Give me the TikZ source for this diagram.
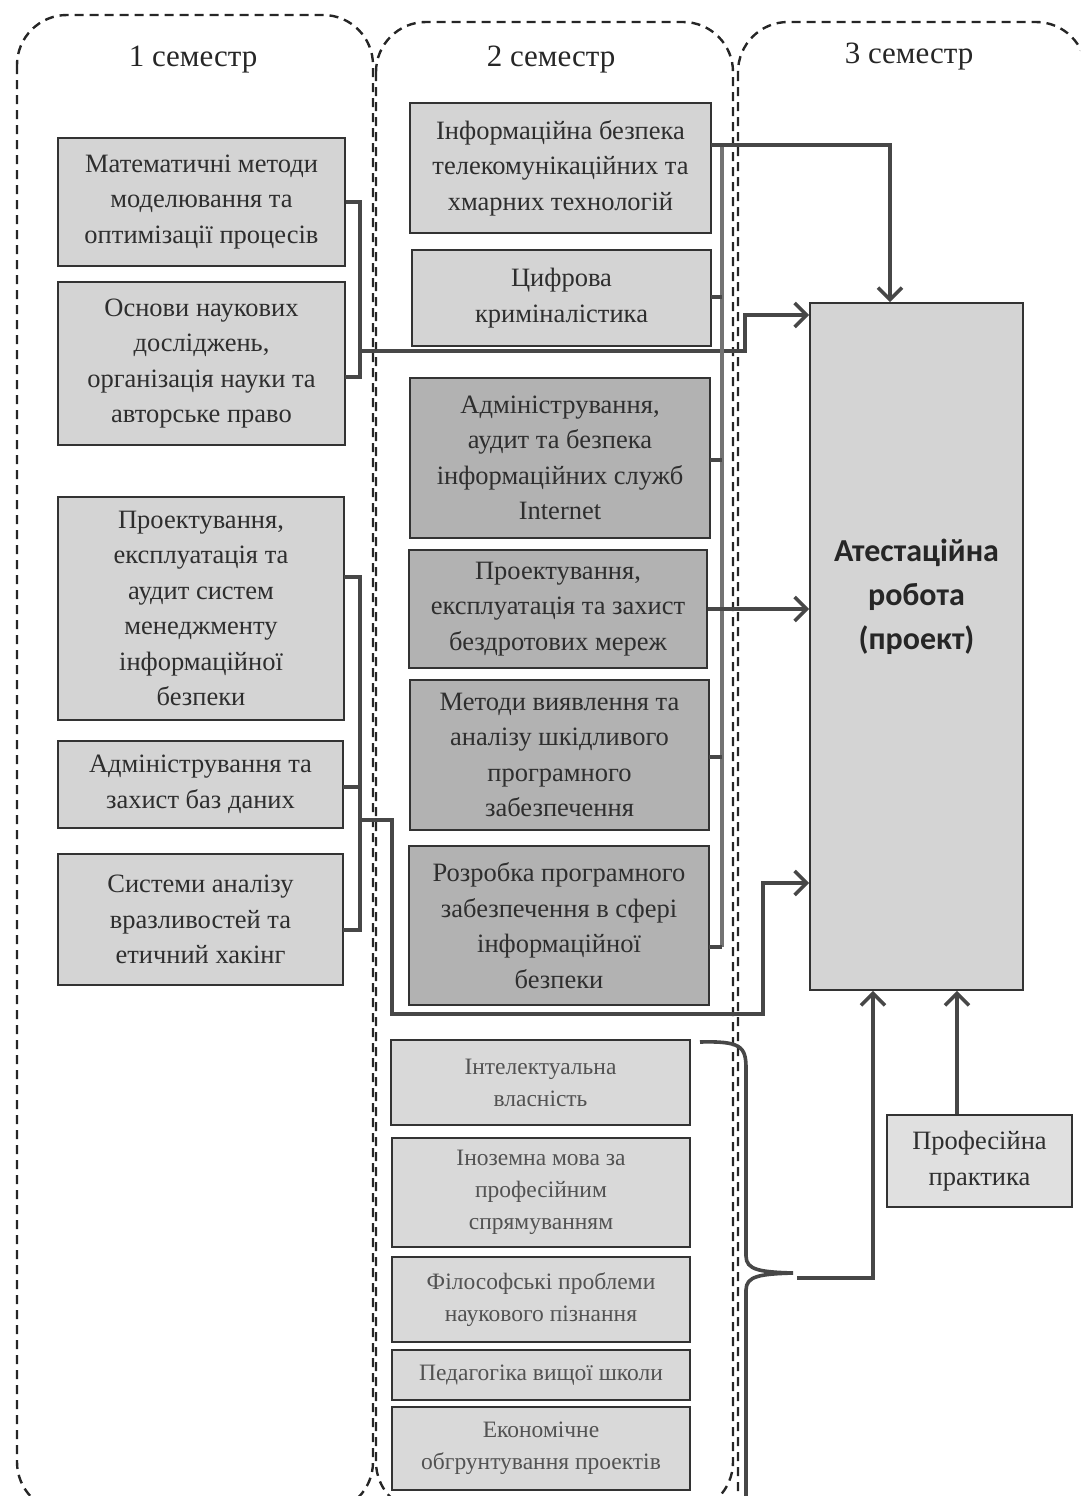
\documentclass[tikz,border=0pt]{standalone}
\usepackage{fontspec}
\setmainfont{Liberation Serif}
\newfontfamily\calib{Carlito}
\usetikzlibrary{arrows.meta}
\begin{document}
\begin{tikzpicture}[x=1pt,y=-1pt,
  coldash/.style={draw=black!85,line width=2.4pt,dash pattern=on 9pt off 6pt,rounded corners=50pt},
  bx/.style={rectangle,draw=black!80,line width=1.6pt,inner sep=0pt,align=center,text=black!82,
    font=\fontsize{26.5}{35.5}\selectfont},
  lightbx/.style={bx,fill=black!17},
  darkbx/.style={bx,fill=black!30},
  smallbx/.style={bx,fill=black!15,text=black!68,font=\fontsize{23.5}{32}\selectfont},
  conn/.style={draw=black!72,line width=4pt,line join=miter},
  bus/.style={draw=black!55,line width=3.6pt},
  arr/.style={conn,-{Straight Barb[length=12pt,width=24pt,line width=3.6pt]}},
  sem/.style={text=black!85,font=\fontsize{31}{36}\selectfont}]
\useasboundingbox (0,0) rectangle (1080,1496);
\clip (0,0) rectangle (1080,1496);
% column frames
\draw[coldash] (17,15) rectangle (373,1512);
\draw[coldash] (376,22) rectangle (733,1512);
\draw[coldash] (738,22) rectangle (1086,1600);
% semester labels
\node[sem] (t1) at (193,60) {1 семестр};
\node[sem] (t2) at (551,60) {2 семестр};
\node[sem] (t3) at (909,57) {3 семестр};
% column 1
\node[lightbx,minimum width=287pt,minimum height=128pt] (m1) at (201.5,202) {Математичні методи\\моделювання та\\оптимізації процесів};
\node[lightbx,minimum width=287pt,minimum height=163pt] (m2) at (201.5,363.5) {Основи наукових\\досліджень,\\організація науки та\\авторське право};
\node[lightbx,minimum width=286pt,minimum height=223pt] (m3) at (201,608.5) {Проектування,\\експлуатація та\\аудит систем\\менеджменту\\інформаційної\\безпеки};
\node[lightbx,minimum width=285pt,minimum height=87pt] (m4) at (200.5,784.5) {Адміністрування та\\захист баз даних};
\node[lightbx,minimum width=285pt,minimum height=131pt] (m5) at (200.5,919.5) {Системи аналізу\\вразливостей та\\етичний хакінг};
% column 2
\node[lightbx,minimum width=301pt,minimum height=130pt] (s1) at (560.5,168) {Інформаційна безпека\\телекомунікаційних та\\хмарних технологій};
\node[lightbx,minimum width=299pt,minimum height=96pt] (s2) at (561.5,298) {Цифрова\\криміналістика};
\node[darkbx,minimum width=300pt,minimum height=160pt] (s3) at (560,458) {Адміністрування,\\аудит та безпека\\інформаційних служб\\Internet};
\node[darkbx,minimum width=298pt,minimum height=118pt] (s4) at (558,609) {Проектування,\\експлуатація та захист\\бездротових мереж};
\node[darkbx,minimum width=299pt,minimum height=150pt] (s5) at (559.5,755) {Методи виявлення та\\аналізу шкідливого\\програмного\\забезпечення};
\node[darkbx,minimum width=300pt,minimum height=159pt] (s6) at (559,925.5) {Розробка програмного\\забезпечення в сфері\\інформаційної\\безпеки};
\node[smallbx,minimum width=299pt,minimum height=85pt] (b1) at (540.5,1082.5) {Інтелектуальна\\власність};
\node[smallbx,minimum width=298pt,minimum height=109pt] (b2) at (541,1192.5) {Іноземна мова за\\професійним\\спрямуванням};
\node[smallbx,minimum width=298pt,minimum height=85pt] (b3) at (541,1299.5) {Філософські проблеми\\наукового пізнання};
\node[smallbx,minimum width=298pt,minimum height=50pt] (b4) at (541,1375) {Педагогіка вищої школи};
\node[smallbx,minimum width=298pt,minimum height=83pt] (b5) at (541,1448.5) {Економічне\\обгрунтування проектів};
% column 3
\node[bx,fill=black!17,minimum width=213pt,minimum height=687pt] (at) at (916.5,646.5) {};
\node[text=black!85,align=center,font=\calib\bfseries\fontsize{32}{44}\selectfont] (atl) at (916.5,597) {Атестаційна\\робота\\(проект)};
\node[bx,fill=black!12,minimum width=185pt,minimum height=92pt,font=\fontsize{26.5}{36}\selectfont] (pp) at (979.5,1161) {Професійна\\практика};
% column 1 connectors
\draw[conn] (m1.east) -- (360,202) -- (360,377) -- (345,377);
\draw[arr] (360,351) -- (745,351) -- (745,315) -- (at.west |- 0,315);
\draw[conn] (344,577) -- (360,577) -- (360,930) -- (343,930);
\draw[conn] (343,787) -- (360,787);
\draw[arr] (360,820) -- (392,820) -- (392,1014) -- (763,1014) -- (763,883) -- (at.west |- 0,883);
% column 2 connectors
\draw[bus] (722,145) -- (722,947);
\draw[arr] (711,145) -- (890,145) -- (at.north -| 890,0);
\draw[conn] (711,297) -- (722,297);
\draw[conn] (710,460) -- (722,460);
\draw[arr] (s4.east) -- (at.west |- s4.east);
\draw[conn] (709,757) -- (722,757);
\draw[conn] (709,947) -- (722,947);
% brace
\draw[conn,line width=3.6pt] (700,1042) .. controls (740,1041) and (746,1046) .. (746,1068) -- (746,1256)
  .. controls (746,1270) and (760,1272) .. (793,1273)
  .. controls (760,1274) and (746,1276) .. (746,1290) -- (746,1500);
\draw[arr] (797,1278) -- (873,1278) -- (at.south -| 873,0);
\draw[arr] (pp.north -| 957,0) -- (at.south -| 957,0);
\end{tikzpicture}
\end{document}
